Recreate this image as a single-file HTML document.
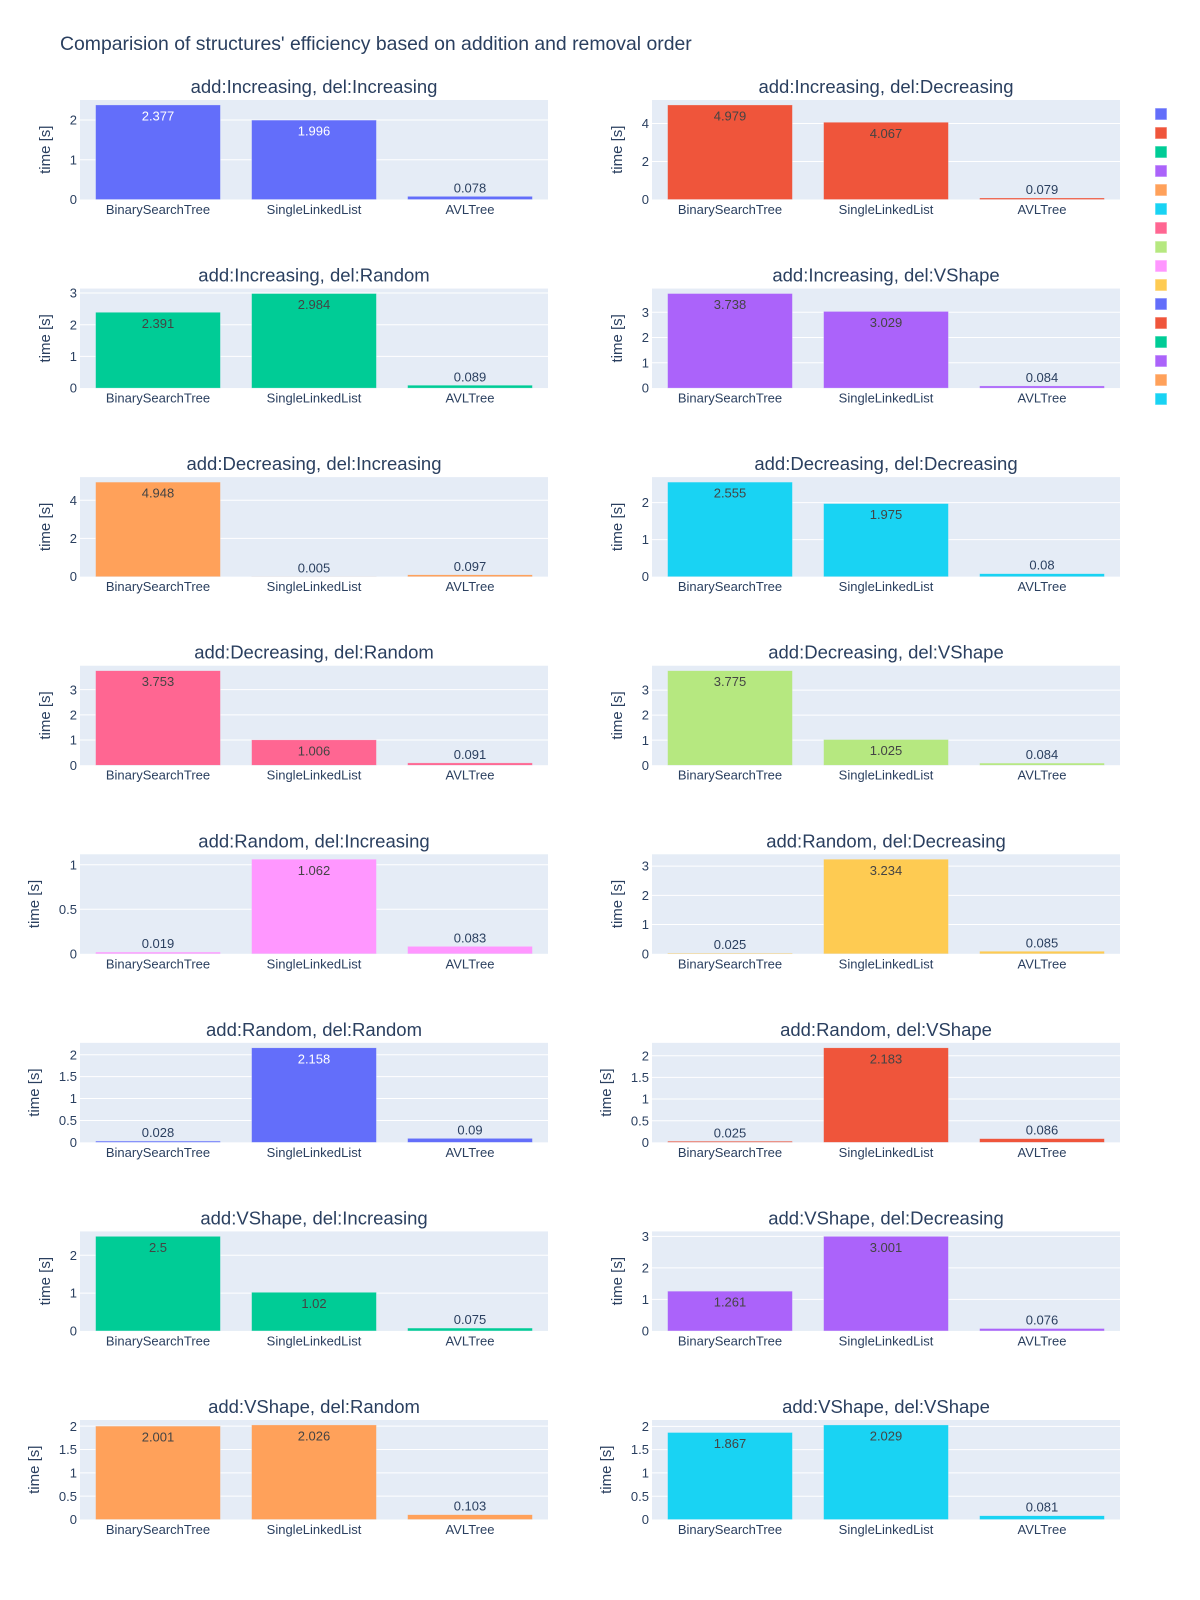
<!DOCTYPE html>
<html><head><meta charset="utf-8">
<style>
html,body{margin:0;padding:0;background:#fff;}
svg{display:block;font-family:"Liberation Sans",Arial,sans-serif;}
</style></head>
<body>
<svg id="chart" width="1200" height="1600" viewBox="0 0 1200 1600" xmlns="http://www.w3.org/2000/svg">
<text x="60" y="50" font-size="19.4" fill="#2a3f5f">Comparision of structures' efficiency based on addition and removal order</text>
</svg>
<script>
const categories = ["BinarySearchTree","SingleLinkedList","AVLTree"];
const subplotTitles = [
 "add:Increasing, del:Increasing","add:Increasing, del:Decreasing",
 "add:Increasing, del:Random","add:Increasing, del:VShape",
 "add:Decreasing, del:Increasing","add:Decreasing, del:Decreasing",
 "add:Decreasing, del:Random","add:Decreasing, del:VShape",
 "add:Random, del:Increasing","add:Random, del:Decreasing",
 "add:Random, del:Random","add:Random, del:VShape",
 "add:VShape, del:Increasing","add:VShape, del:Decreasing",
 "add:VShape, del:Random","add:VShape, del:VShape"];
const bstValues = [2.377,4.979,2.391,3.738,4.948,2.555,3.753,3.775,0.019,0.025,0.028,0.025,2.5,1.261,2.001,1.867];
const sllValues = [1.996,4.067,2.984,3.029,0.005,1.975,1.006,1.025,1.062,3.234,2.158,2.183,1.02,3.001,2.026,2.029];
const avlValues = [0.078,0.079,0.089,0.084,0.097,0.08,0.091,0.084,0.083,0.085,0.09,0.086,0.075,0.076,0.103,0.081];
const colors = ["#636efa","#EF553B","#00cc96","#ab63fa","#FFA15A","#19d3f3","#FF6692","#B6E880","#FF97FF","#FECB52"];

const NS="http://www.w3.org/2000/svg";
const svg=document.getElementById('chart');
function mk(tag,attrs,parent){const e=document.createElementNS(NS,tag);for(const k in attrs)e.setAttribute(k,attrs[k]);(parent||svg).appendChild(e);return e;}
const PW=468, PH=99.5, LEFTS=[80,652], TOP0=100, ROWSTEP=188.57;
function fmt(v){return String(Math.round(v*1000)/1000);}
function labelW(s){let w=0;for(const c of s)w+=(c==='.')?3.6:7.2;return w;}

for(let i=0;i<subplotTitles.length;i++){
  const vals=[bstValues[i],sllValues[i],avlValues[i]];
  const color=colors[i%colors.length];
  const col=i%2,row=Math.floor(i/2);
  const x0=LEFTS[col], y0=TOP0+row*ROWSTEP, yb=y0+PH;
  const maxV=Math.max(...vals);
  const range=maxV/0.95;
  const yScale=v=>yb-v/range*PH;
  const band=PW/categories.length;
  const xScale=k=>x0+band*(k+0.5);
  let step=0.1;for(const s of [0.1,0.2,0.5,1,2,5]){if(range/s<5){step=s;break;}}
  const g=mk('g',{});
  
  
  const bg=mk('rect',{x:x0,y:y0,width:PW,height:PH,fill:'#E5ECF6'},g);
  
  
  let maxLab=0;
  for(let t=0;t<=range+1e-9;t+=step){
    const tv=Math.round(t*10)/10, y=yScale(tv);
    if(tv>0){const gl=mk('line',{x1:x0,x2:x0+PW,y1:y,y2:y,stroke:'#fff','stroke-width':1},g);
      
      }
    const s=String(tv);maxLab=Math.max(maxLab,labelW(s));
    const tl=mk('text',{x:x0-3,y:y+4.6,'font-size':13,fill:'#2a3f5f','text-anchor':'end'},g);
    tl.textContent=s;
    
    
  }
  const tx=x0-3-maxLab-20;
  const yt=mk('text',{x:tx,y:y0+PH/2,'font-size':15,fill:'#2a3f5f','text-anchor':'middle',transform:`rotate(-90 ${tx} ${y0+PH/2})`},g);
  yt.textContent='time [s]';
  
  
  const st=mk('text',{x:x0+PW/2,y:y0-7,'font-size':18.5,fill:'#2a3f5f','text-anchor':'middle'},g);
  st.textContent=subplotTitles[i];
  
  
  for(let k=0;k<categories.length;k++){
    const cx=xScale(k), bw=band*0.8, top=yScale(vals[k]);
    const b=mk('rect',{x:cx-bw/2,y:top,width:bw,height:yb-top,fill:color,stroke:'rgba(229,236,246,0.6)','stroke-width':0.5},g);
    
    
    const inside=(yb-top)>20;
    const txtColor=inside?(color==="#636efa"?'#fff':'#444'):'#2a3f5f';
    const vt=mk('text',{x:cx,y:inside?top+15.5:top-4,'font-size':13,fill:txtColor,'text-anchor':'middle'},g);
    vt.textContent=fmt(vals[k]);
    
    
    const cl=mk('text',{x:cx,y:yb+14.5,'font-size':13,fill:'#2a3f5f','text-anchor':'middle'},g);
    cl.textContent=categories[k];
    
    
  }
  const lg=mk('rect',{x:1155,y:108+i*19,width:12,height:12,fill:color,stroke:'rgba(255,255,255,0.6)','stroke-width':1});
  
  
}
</script>
</body></html>
